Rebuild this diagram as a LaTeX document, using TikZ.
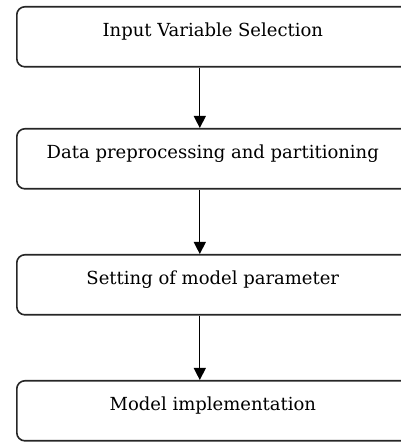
\documentclass[tikz,border=0pt]{standalone}
\usepackage{fontspec}
\setmainfont{DejaVu Serif}
\usetikzlibrary{arrows.meta,positioning}
\tikzset{%
    stepbox/.style={%
        rectangle, rounded corners=8pt, minimum width=392pt, minimum height=60pt, text height=9pt, text depth=9pt, anchor=north west, draw=black!85, line width=1.6pt, font=\fontsize{18}{22}\selectfont
    },
    flow/.style={%
        -{Triangle[width=12pt,length=12pt]}, line width=1.3pt
    },
}
\begin{document}
\begin{tikzpicture}

    \clip (0,0) rectangle (401pt,442pt);

    \node[stepbox] (selection) at (16pt,436pt) {Input Variable Selection};
    \node[stepbox] (preprocessing) at (16pt,314pt) {Data preprocessing and partitioning};
    \node[stepbox] (parameter) at (16pt,188pt) {Setting of model parameter};
    \node[stepbox] (implementation) at (16pt,62pt) {Model implementation};

    \draw[flow] ([xshift=-13pt]selection.south) -- ([xshift=-13pt]preprocessing.north);
    \draw[flow] ([xshift=-13pt]preprocessing.south) -- ([xshift=-13pt]parameter.north);
    \draw[flow] ([xshift=-13pt]parameter.south) -- ([xshift=-13pt]implementation.north);

  \end{tikzpicture}
\end{document}
